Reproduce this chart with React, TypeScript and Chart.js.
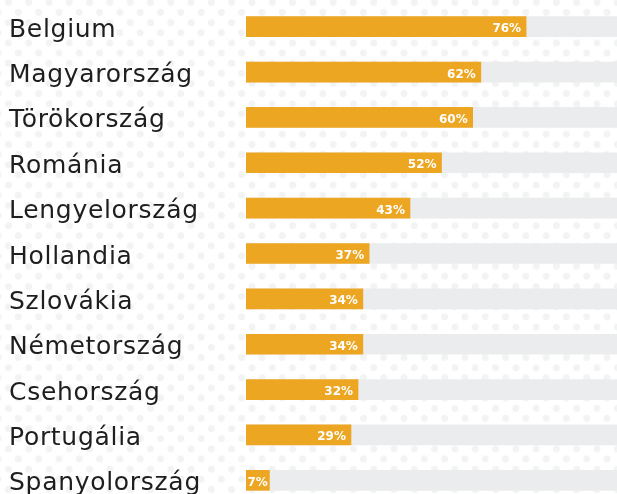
import React, { useEffect, useRef } from "react";
import { Chart, registerables } from "chart.js";

Chart.register(...registerables);

const categories = [
  "Belgium",
  "Magyarország",
  "Törökország",
  "Románia",
  "Lengyelország",
  "Hollandia",
  "Szlovákia",
  "Németország",
  "Csehország",
  "Portugália",
  "Spanyolország",
];

// bar lengths (percent of the track)
const barValues = [75.5, 63.3, 61.1, 52.7, 44.2, 33.2, 31.5, 31.5, 30.2, 28.3, 6.3];
// value labels printed on the bars
const labelValues = [76, 62, 60, 52, 43, 37, 34, 34, 32, 29, 7];
const trackValues = categories.map(() => 100);

const ORANGE = "#eca622";
const TRACK = "#ebecee";

const labelPlugin = {
  id: "customLabels",
  afterDatasetsDraw(chart: any) {
    const ctx = chart.ctx;
    const meta = chart.getDatasetMeta(0);
    const yScale = chart.scales.y;
    ctx.save();
    // category labels
    ctx.font = "25px 'DejaVu Sans', sans-serif";
    ctx.fillStyle = "#1e1e1e";
    ctx.textBaseline = "alphabetic";
    ctx.textAlign = "left";
    try { (ctx as any).letterSpacing = "0.7px"; } catch (e) {}
    categories.forEach((c, i) => {
      const y = yScale.getPixelForValue(i);
      ctx.fillText(c, yScale.left, y + 10);
    });
    try { (ctx as any).letterSpacing = "0px"; } catch (e) {}
    // value labels
    ctx.font = "bold 12px 'DejaVu Sans', sans-serif";
    ctx.fillStyle = "#ffffff";
    meta.data.forEach((bar: any, i: number) => {
      const text = labelValues[i] + "%";
      const w = ctx.measureText(text).width;
      let x = bar.x - 5 - w;
      const minX = bar.base + 1.5;
      if (x < minX) x = minX;
      ctx.fillText(text, x, bar.y + 5.5);
    });
    ctx.restore();
  },
};

export default function App() {
  const canvasRef = useRef<HTMLCanvasElement | null>(null);

  useEffect(() => {
    if (!canvasRef.current) return;
    const chart = new Chart(canvasRef.current, {
      type: "bar",
      data: {
        labels: categories,
        datasets: [
          {
            data: barValues,
            backgroundColor: ORANGE,
            barThickness: 20,
            grouped: false,
            borderWidth: 0,
          },
          {
            data: trackValues,
            backgroundColor: TRACK,
            barThickness: 20,
            grouped: false,
            borderWidth: 0,
          },
        ],
      },
      options: {
        indexAxis: "y",
        responsive: false,
        animation: false,
        layout: { padding: { left: 9, top: 4, right: 0, bottom: 0 } },
        plugins: {
          legend: { display: false },
          tooltip: { enabled: false },
        },
        scales: {
          x: {
            display: false,
            min: 0,
            max: 100,
          },
          y: {
            grid: { display: false },
            border: { display: false },
            ticks: { display: false },
            afterFit(scale: any) {
              scale.width = 237;
              scale.paddingTop = 0;
              scale.paddingBottom = 0;
            },
          },
        },
      },
      plugins: [labelPlugin],
    } as any);
    return () => chart.destroy();
  }, []);

  const dot = "radial-gradient(circle, #f2f3f3 3.2px, rgba(242,243,243,0) 3.9px)";

  return (
    <div
      style={{
        position: "fixed",
        left: 0,
        top: 0,
        width: 617,
        height: 494,
        overflow: "hidden",
        backgroundColor: "#ffffff",
        backgroundImage: `${dot}, ${dot}`,
        backgroundSize: "20.3px 20.3px, 20.3px 20.3px",
        backgroundPosition: "-1.75px -7.75px, 8.25px 2.25px",
      }}
    >
      <canvas
        ref={canvasRef}
        width={617}
        height={503}
        style={{ display: "block", width: 617, height: 503 }}
      />
    </div>
  );
}
